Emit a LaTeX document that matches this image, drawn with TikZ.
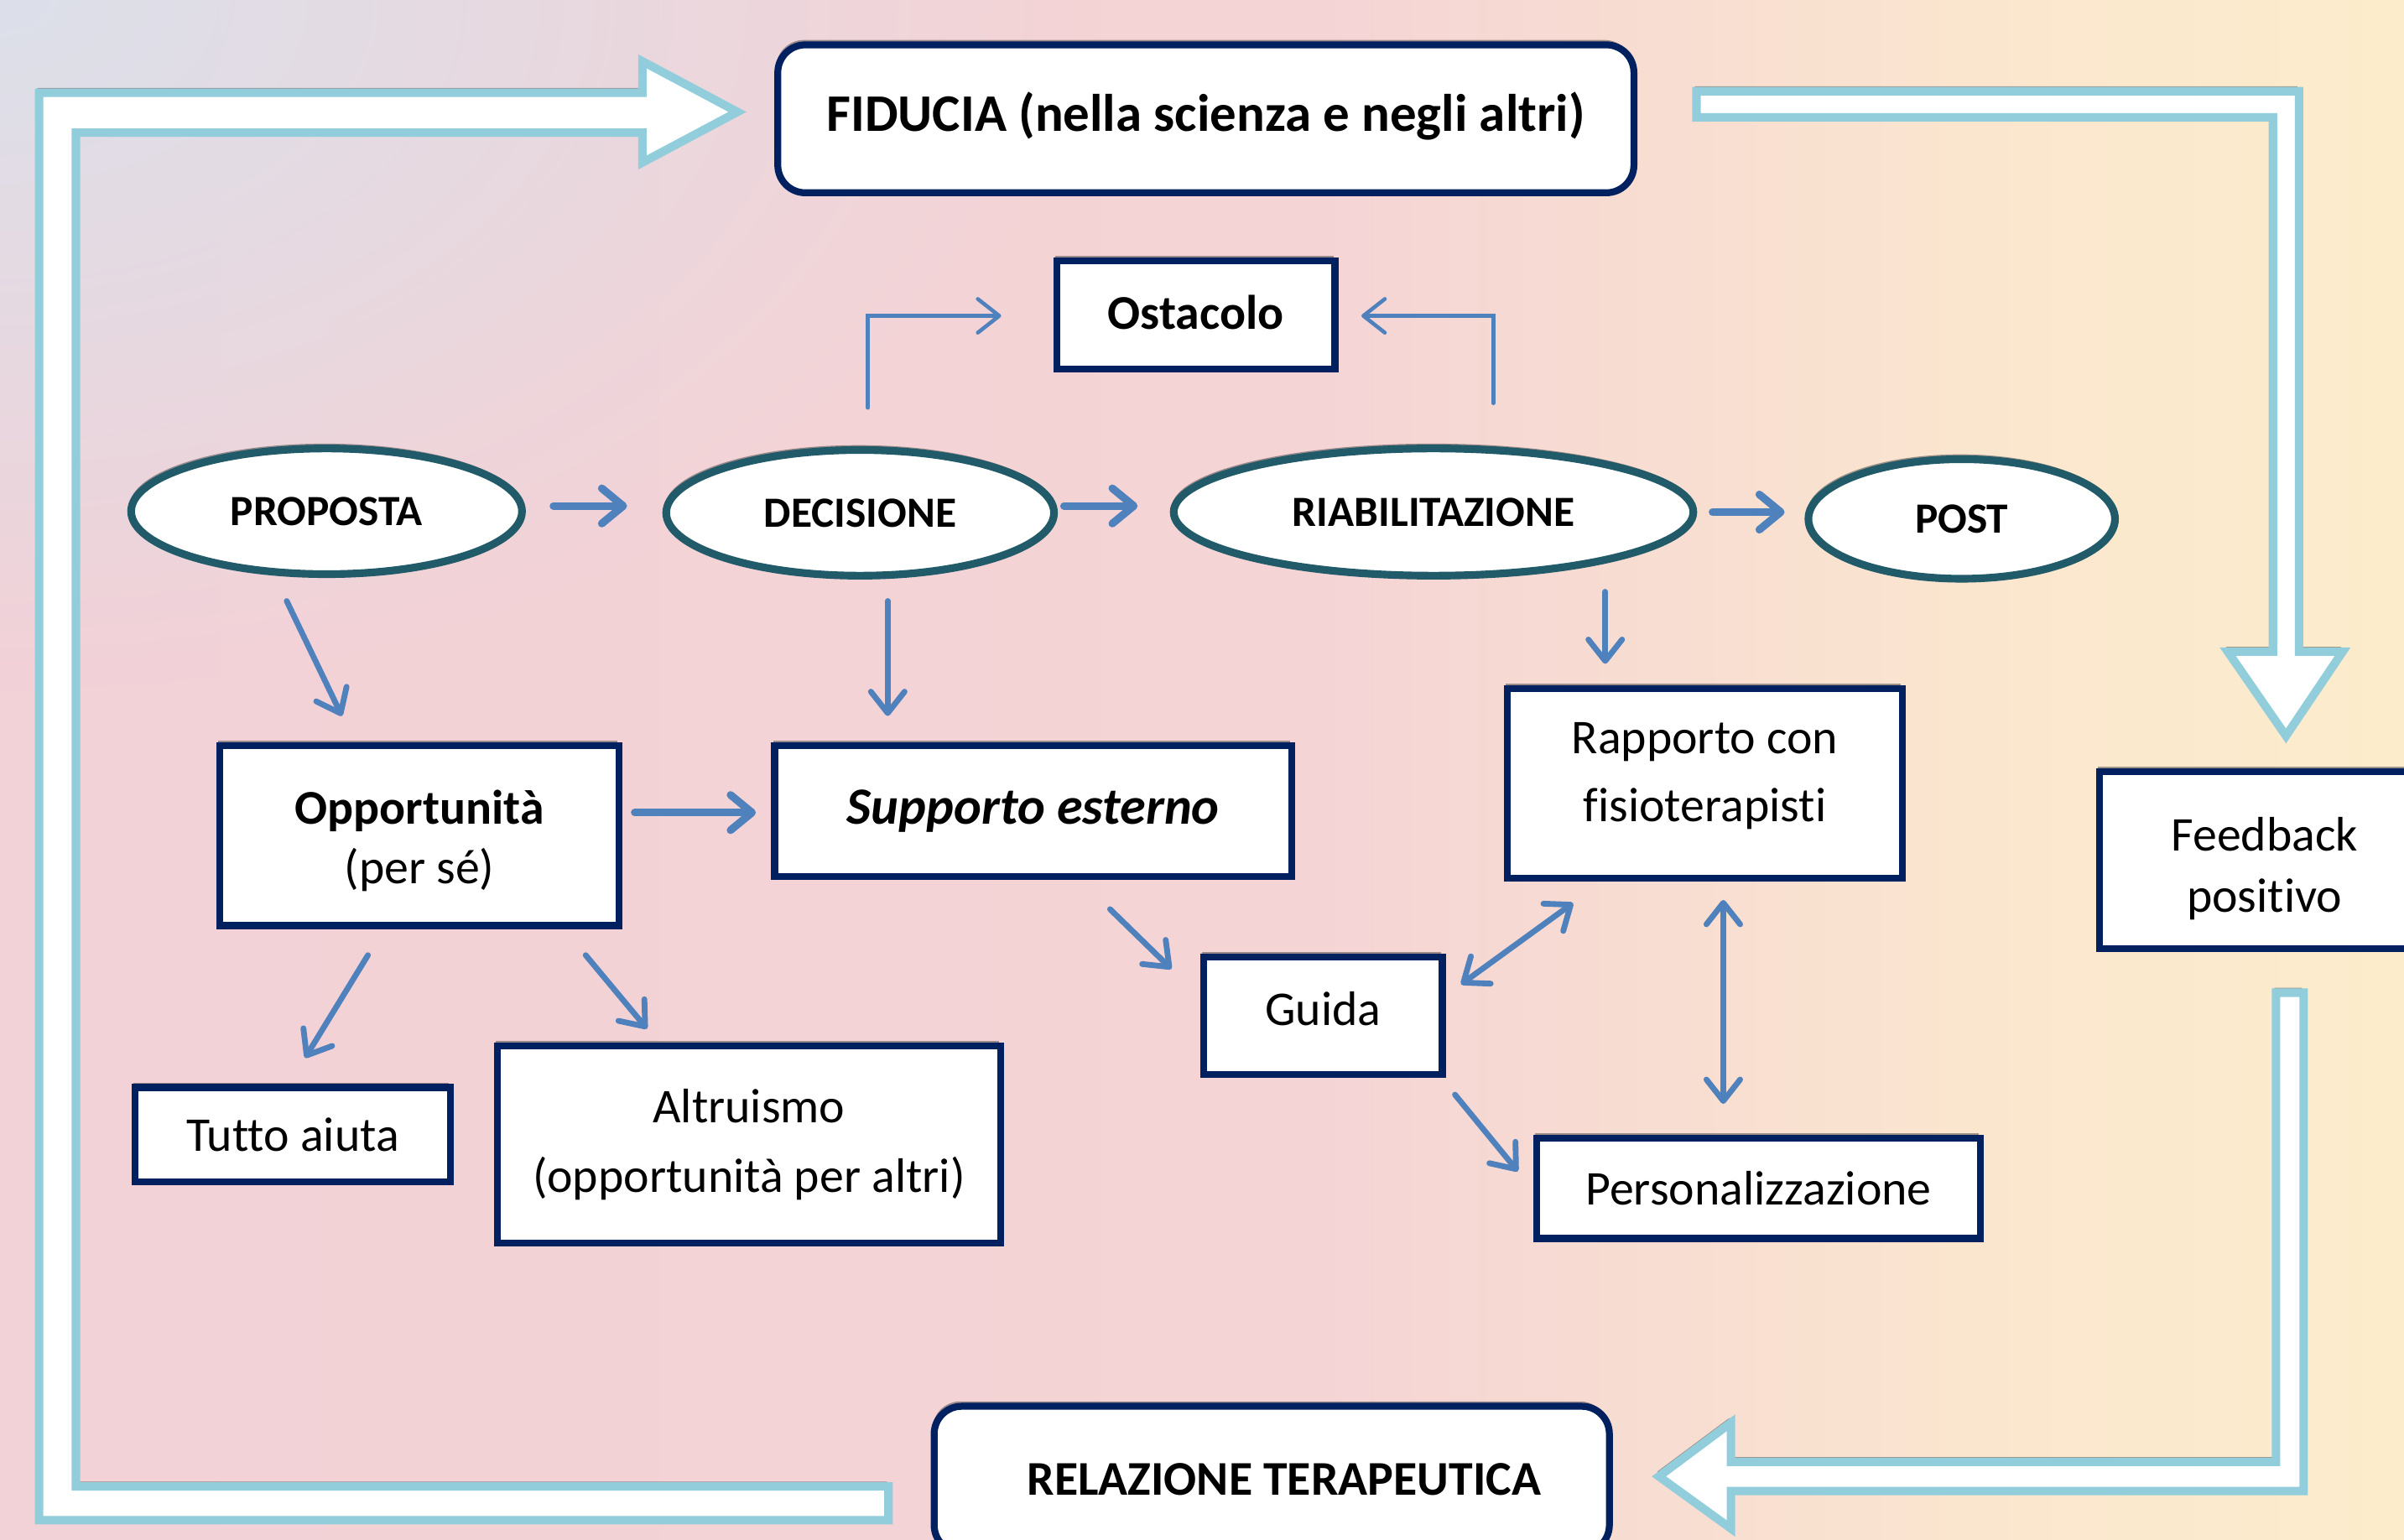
\documentclass[tikz,border=0pt]{standalone}
\usepackage{fontspec}
\setmainfont{Carlito}[Ligatures=CommonOff]
\usetikzlibrary{shapes.geometric,arrows.meta,shadows,fadings}
\definecolor{navy}{HTML}{002060}
\definecolor{tealdark}{HTML}{215A68}
\definecolor{flowblue}{HTML}{4F81BD}
\definecolor{paleblue}{HTML}{92CDDC}
\definecolor{bgrose}{HTML}{F2D1D7}
\definecolor{bgpink}{HTML}{F5D4D5}
\definecolor{bgpeach}{HTML}{FBE8CE}
\definecolor{bgcream}{HTML}{FCECCB}
\definecolor{bglilac}{HTML}{DCE0EA}
\tikzfading[name=cornerfade, inner color=transparent!0, outer color=transparent!100]
\tikzset
{
    softshadow/.style = {drop shadow={shadow xshift=-0.6pt, shadow yshift=1.8pt, opacity=0.5, fill=black!75}},
    phase/.style   = {ellipse, draw=tealdark, line width=0.1cm, fill=white, inner sep=0pt, font=\fontsize{16}{19}\selectfont\bfseries, softshadow},
    theme/.style   = {rectangle, draw=navy, line width=0.09cm, fill=white, align=center, inner sep=2pt, font=\fontsize{18}{23}\selectfont, softshadow},
    keybox/.style  = {theme, rounded corners=0.36cm},
    flow/.style    = {draw=flowblue, line width=0.1cm, line cap=round, -{Straight Barb[round,length=0.28cm,width=0.46cm]}},
    flowthin/.style= {draw=flowblue, line width=0.075cm, line cap=round, -{Straight Barb[round,length=0.28cm,width=0.44cm]}},
    twoway/.style  = {flowthin, {Straight Barb[round,length=0.28cm,width=0.44cm]}-{Straight Barb[round,length=0.28cm,width=0.44cm]}},
    bigarrow/.style= {draw=paleblue, fill=white, line width=0.11cm, softshadow}
}

\begin{document}
\begin{tikzpicture}[x=0.02cm, y=-0.02cm]
\useasboundingbox (0,0) rectangle (1568,1004);
\clip (0,0) rectangle (1568,1004);
% background
\fill[left color=bgrose, right color=bgpink] (0,0) rectangle (860,1004);
\fill[left color=bgpink, right color=bgpeach] (859,0) rectangle (1350,1004);
\fill[left color=bgpeach, right color=bgcream] (1349,0) rectangle (1568,1004);
\fill[bglilac, path fading=cornerfade] (0,0) ellipse [x radius=700, y radius=450];
% big loop arrows
\draw[bigarrow] (579.5,969.5) -- (49.5,969.5) -- (49.5,86.5) -- (419,86.5) -- (419,106) -- (481,73) -- (419,40) -- (419,60.5) -- (25.5,60.5) -- (25.5,991.5) -- (579.5,991.5) -- cycle;
\draw[bigarrow] (1106.5,59.5) -- (1499.5,59.5) -- (1499.5,425) -- (1528,425) -- (1491,480) -- (1453,425) -- (1482.5,425) -- (1482.5,76.5) -- (1106.5,76.5) -- cycle;
\draw[bigarrow] (1484.5,647.5) -- (1502.5,647.5) -- (1502.5,972.5) -- (1129,972.5) -- (1129,997) -- (1082,963) -- (1129,928) -- (1129,953.5) -- (1484.5,953.5) -- cycle;
% nodes
\node(fiducia) [keybox, minimum width=11.17cm, minimum height=1.93cm, font=\fontsize{19.6}{24}\selectfont\bfseries] at (786.5,77.5) {FIDUCIA (nella scienza e negli altri)\rule[-5pt]{0pt}{1pt}};
\node(ostacolo) [theme, minimum width=3.63cm, minimum height=1.41cm, font=\fontsize{18}{23}\selectfont\bfseries] at (780,205.5) {Ostacolo\rule[-2pt]{0pt}{1pt}};
\node(proposta) [phase, minimum width=5.1cm, minimum height=1.64cm] at (213,333.5) {PROPOSTA};
\node(decisione) [phase, minimum width=5.06cm, minimum height=1.64cm] at (561,334.5) {DECISIONE};
\node(riabil) [phase, minimum width=6.78cm, minimum height=1.66cm] at (935,334) {RIABILITAZIONE};
\node(post) [phase, minimum width=4.0cm, minimum height=1.56cm] at (1279.5,338.5) {POST};
\node(opport) [theme, minimum width=5.21cm, minimum height=2.35cm, font=\fontsize{18}{22}\selectfont] at (273.5,545) {\rule{0pt}{16.5pt}\textbf{Opportunità}\\(per sé)};
\node(supporto) [theme, minimum width=6.75cm, minimum height=1.71cm, font=\fontsize{19.4}{24}\selectfont\bfseries\itshape] at (674,529) {Supporto esterno};
\node(rapporto) [theme, minimum width=5.15cm, minimum height=2.47cm, font=\fontsize{18}{25}\selectfont] at (1112,511) {Rapporto con\\fisioterapisti\rule[-8.5pt]{0pt}{1pt}};
\node(feedback) [theme, minimum width=4.31cm, minimum height=2.31cm, font=\fontsize{18}{22.8}\selectfont] at (1477,561) {\rule{0pt}{18.6pt}Feedback\\positivo};
\node(guida) [theme, minimum width=3.11cm, minimum height=1.53cm] at (863,662.5) {Guida\rule[-5pt]{0pt}{1pt}};
\node(person) [theme, minimum width=5.79cm, minimum height=1.31cm] at (1147,775) {Personalizzazione};
\node(tutto) [theme, minimum width=4.11cm, minimum height=1.23cm] at (191,740) {Tutto aiuta};
\node(altruismo) [theme, minimum width=6.57cm, minimum height=2.57cm, font=\fontsize{18}{26}\selectfont] at (488.5,746.5) {Altruismo\\(opportunità per altri)};
\node(relazione) [keybox, minimum width=8.81cm, minimum height=1.91cm, font=\fontsize{18}{24}\selectfont\bfseries] at (829.5,965) {\hspace*{0.32cm}RELAZIONE TERAPEUTICA};
% small arrows
\draw[flow] ([shift=({148,-3.5})]proposta.center) -- ([shift=({-152,-4.5})]decisione.center);
\draw[flow] ([shift=({133,-4.5})]decisione.center) -- ([shift=({-193,-4})]riabil.center);
\draw[flow] ([shift=({182,0})]riabil.center) -- ([shift=({-115.5,-4.5})]post.center);
\draw[flow] ([shift=({140.5,-15})]opport.center) -- ([shift=({-181,1})]supporto.center);
\draw[flowthin] ([shift=({-26,58.5})]proposta.center) -- ([shift=({-50.5,-78})]opport.center);
\draw[flowthin] ([shift=({18,57.5})]decisione.center) -- ([shift=({-95,-62})]supporto.center);
\draw[flowthin] ([shift=({112,52})]riabil.center) -- ([shift=({-65,-78})]rapporto.center);
\draw[flowthin] ([shift=({50,64})]supporto.center) -- ([shift=({-99,-30.5})]guida.center);
\draw[flowthin] ([shift=({-33.5,78})]opport.center) -- ([shift=({8,-50})]tutto.center);
\draw[flowthin] ([shift=({108.5,78})]opport.center) -- ([shift=({-66.5,-75.5})]altruismo.center);
\draw[twoway] ([shift=({90,-20.5})]guida.center) -- ([shift=({-86,78})]rapporto.center);
\draw[twoway] ([shift=({12,76})]rapporto.center) -- ([shift=({-23,-55})]person.center);
\draw[flowthin] ([shift=({86,51.5})]guida.center) -- ([shift=({-157,-11})]person.center);
\draw[flowthin, line width=0.05cm] ([shift=({5,-68.5})]decisione.center) |- ([shift=({-127,0.5})]ostacolo.center);
\draw[flowthin, line width=0.05cm] ([shift=({39,-71})]riabil.center) |- ([shift=({108,0.5})]ostacolo.center);
\end{tikzpicture}
\end{document}
